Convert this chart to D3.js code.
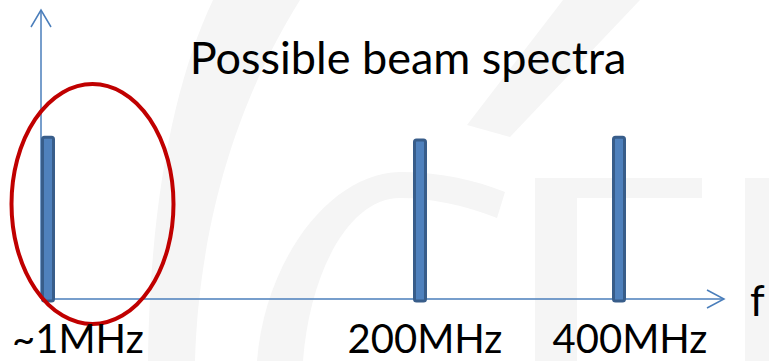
<!DOCTYPE html>
<html><head><meta charset="utf-8">
<script src="https://cdn.jsdelivr.net/npm/d3@7"></script>
<style>body{margin:0;background:#fff}svg{display:block}</style>
</head><body>
<svg id="c" width="769" height="361"></svg>
<script>
const categories = ["~1MHz", "200MHz", "400MHz"];
const frequencies = [1, 200, 400];
const amplitudes = [0.56, 0.55, 0.56];
const title = "Possible beam spectra";
const axisLabel = "f";

const W = 769, H = 361;
const svg = d3.select("#c");
const font = "Lato, 'Open Sans', sans-serif";

// faint watermark
const wm = svg.append("g").attr("fill", "#f5f5f5").attr("stroke", "none");
wm.append("path").attr("d", "M213,0 L300,0 C250,80 200,200 195,361 L148,361 C150,200 175,80 213,0 Z");
wm.append("path").attr("d", "M563,0 L640,0 L510,137 L467,125 Z");
wm.append("path").attr("d", "M257,361 C265,260 330,173 400,172 C440,172 475,180 505,192 L497,218 C465,205 430,198 400,198 C350,198 310,270 303,361 Z");
wm.append("path").attr("d", "M535,178 L702,178 L702,198 L577,198 L577,361 L535,361 Z");
wm.append("path").attr("d", "M745,178 L769,178 L769,361 L745,361 Z");

const x = d3.scaleLinear().domain([0, 1, 200, 400, 425]).range([41, 48, 420, 619, 724]);
const y = d3.scaleLinear().domain([0, 1]).range([299, 10]);

const axisColor = "#4a7ebb";
// axes
svg.append("line").attr("x1", x(0)).attr("x2", x(0)).attr("y1", y(0)).attr("y2", y(1))
  .attr("stroke", axisColor).attr("stroke-width", 1.5);
svg.append("path").attr("d", `M${x(0)-10},${y(1)+17} L${x(0)},${y(1)} L${x(0)+10},${y(1)+17}`)
  .attr("fill", "none").attr("stroke", axisColor).attr("stroke-width", 1.5);
svg.append("line").attr("x1", x(0)).attr("x2", x(425)).attr("y1", y(0)).attr("y2", y(0))
  .attr("stroke", axisColor).attr("stroke-width", 1.5);
svg.append("path").attr("d", `M${x(425)-17},${y(0)-9} L${x(425)},${y(0)} L${x(425)-17},${y(0)+9}`)
  .attr("fill", "none").attr("stroke", axisColor).attr("stroke-width", 1.5);

// bars
const bw = 11;
svg.append("g").selectAll("rect").data(frequencies).join("rect")
  .attr("x", d => x(d) - bw/2)
  .attr("y", (d, i) => y(amplitudes[i]))
  .attr("width", bw)
  .attr("height", (d, i) => y(0) - y(amplitudes[i]) + 2)
  .attr("rx", 2)
  .attr("fill", "#4f81bd").attr("stroke", "#385d8a").attr("stroke-width", 3);

// ellipse highlight
svg.append("ellipse").attr("cx", 92.5).attr("cy", 204).attr("rx", 81).attr("ry", 120)
  .attr("fill", "none").attr("stroke", "#c00000").attr("stroke-width", 4);

// labels
svg.append("g").selectAll("text").data(categories).join("text")
  .attr("x", (d, i) => i === 0 ? 12 : x(frequencies[i]) + (i === 1 ? 5 : 11))
  .attr("y", 353)
  .attr("text-anchor", (d, i) => i === 0 ? "start" : "middle")
  .attr("font-family", font).attr("font-size", 40).attr("fill", "#000")
  .text(d => d);

svg.append("text").attr("x", 408).attr("y", 74).attr("text-anchor", "middle")
  .attr("font-family", font).attr("font-size", 45).attr("fill", "#000").text(title);

svg.append("text").attr("x", 750).attr("y", 316)
  .attr("font-family", font).attr("font-size", 42).attr("fill", "#000").text(axisLabel);
</script>
</body></html>
